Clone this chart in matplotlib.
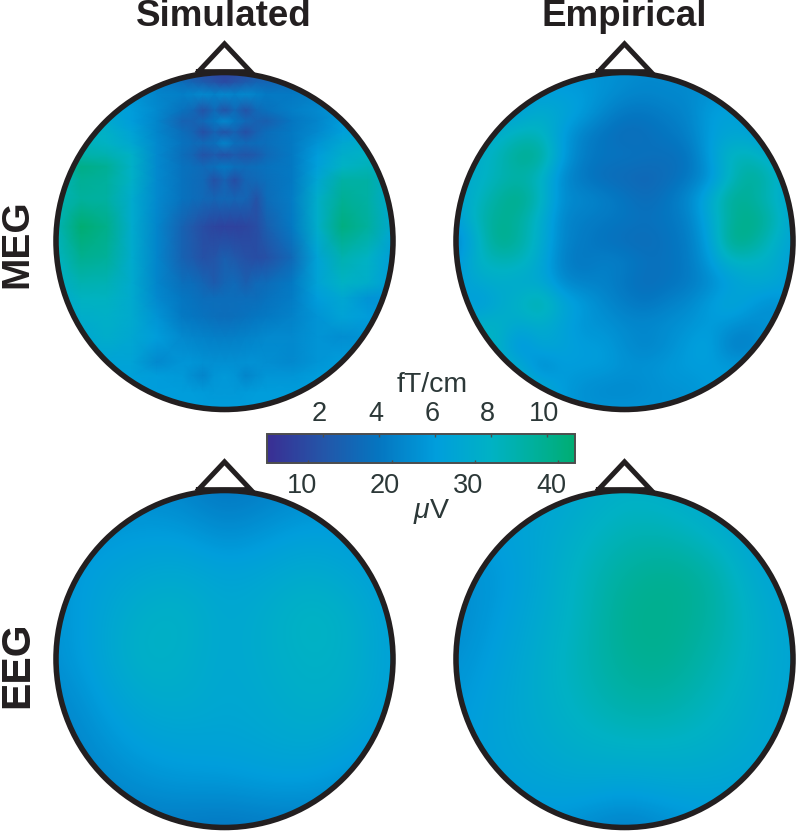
import numpy as np
import matplotlib
matplotlib.use("Agg")
import matplotlib.pyplot as plt
from matplotlib.colors import LinearSegmentedColormap, Normalize
from matplotlib.cm import ScalarMappable
from matplotlib.patches import Circle
from matplotlib.transforms import ScaledTranslation

plt.rcParams['font.family'] = ['Liberation Sans', 'DejaVu Sans']
plt.rcParams['mathtext.fontset'] = 'custom'
plt.rcParams['mathtext.it'] = 'Liberation Sans:italic'

W, H = 800, 835
INK = '#231f20'
LABEL = '#2c3838'

# Simulated MEG (fT/cm), read off at uneven sensor-like nodes
sim_meg_x = [-1, -.85, -.7, -.55, -.4, -.25, -.19, -.125, -.06, 0, .06, .125, .19, .25, .4, .55, .7, .85, 1]
sim_meg_y = [1, .94, .87, .775, .71, .645, .58, .51, .44, .36, .25, .085, -.10, -.25, -.34, -.45, -.57, -.72, -.80, -.9, -1]
sim_meg = [
    [5, 5, 4.5, 4, 3.5, 2.5, 2, 1.5, 1.2, 1, 1.2, 1.5, 2, 2.5, 3.5, 4.5, 5, 5, 5],
    [6, 6, 6, 5.5, 4.5, 3.5, 3, 2.5, 2, 1.5, 2, 2.5, 3, 3, 3.5, 4, 5, 5, 5],
    [6.5, 6.5, 6, 5.5, 4.8, 4.5, 4.7, 5, 4.6, 5, 4.6, 5, 4.6, 4.2, 4.2, 4.4, 5, 5.5, 5.5],
    [7, 7, 6.8, 6, 5, 3.7, 3.2, 1.9, 3.2, 1.9, 3.2, 1.9, 3.2, 3.7, 4.5, 5, 5.5, 6, 6],
    [7.5, 7.5, 7.2, 6, 4.8, 2.8, 2.8, 3.2, 4, 5, 4, 3.2, 2.8, 2.6, 4, 4.8, 6, 6, 6],
    [8, 8, 7.8, 6.5, 4.8, 3.5, 3, 1.7, 2.8, 1.9, 2.8, 1.7, 2.8, 3.5, 4.2, 5, 6.2, 6.5, 6],
    [8, 8.5, 8, 7, 5, 3.8, 3.5, 3.3, 3.6, 4.8, 3.6, 3.3, 3.5, 3.6, 4.2, 5.5, 7, 7.5, 6],
    [8, 9, 8.8, 7.8, 5, 3.5, 3, 1.9, 2.4, 1.8, 2.4, 2, 2.4, 3.2, 4.2, 6, 7.5, 8, 6.5],
    [8, 10.3, 9.8, 7.8, 5, 3.8, 3.6, 3.3, 3.6, 4.2, 3.6, 3.4, 3.6, 3.8, 4.2, 6.2, 8, 8.5, 7],
    [8, 9.8, 9.5, 7.8, 5, 3.8, 3.5, 3.2, 1.8, 2.8, 1.6, 3, 3.2, 3.6, 4.2, 6.8, 9.2, 9.2, 7],
    [8.5, 9.5, 9.3, 7.3, 5, 3.8, 3.5, 3.2, 3, 3.2, 3, 3, 1.9, 3.4, 4.3, 7.5, 9.8, 9.2, 7],
    [8.5, 11, 10.2, 7.3, 4.8, 2.8, 2.2, 1.6, 1.2, 1, 1, 1.2, 1.6, 2.6, 4.2, 7.5, 10.5, 9.5, 7],
    [8, 10, 9.6, 7.3, 4.8, 2.8, 2.4, 1.8, 2, 2.6, 2.2, 1.8, 1.6, 1.8, 3.2, 6.5, 8.8, 8, 6],
    [7.5, 8.8, 8.6, 7.2, 4.8, 3.6, 3.5, 3, 2.4, 3, 3.3, 2.6, 3.3, 3.4, 4.2, 6.5, 8, 7.5, 6],
    [7, 8.2, 8.2, 7.2, 5, 4, 3.8, 3.5, 3.5, 3.5, 3.5, 3.5, 3.5, 3.8, 4.3, 6, 7, 5.5, 5.5],
    [6.5, 7.5, 7.8, 7.2, 5.5, 4.2, 4, 3.8, 3.6, 3.5, 3.6, 3.8, 4, 4.2, 4.6, 5.5, 6.5, 6, 5.5],
    [6, 7, 7.5, 7, 6, 5, 4.8, 4.6, 4.5, 4.4, 4.5, 4.6, 4.8, 5, 5, 5.5, 5.2, 5.5, 5.5],
    [6, 6.5, 6.5, 6.5, 5, 5.6, 5.6, 5.4, 5.3, 5.3, 5.3, 5.4, 5.4, 5.2, 5, 5.6, 6, 6, 6],
    [6, 6.3, 6.3, 6.3, 6, 5.8, 5.2, 4.8, 5.6, 5.8, 5.6, 4.8, 5.2, 5.6, 5.6, 6, 6, 6, 6],
    [6, 6, 6, 6, 6, 6, 6, 5.9, 5.8, 5.8, 5.8, 5.9, 6, 6, 6, 6, 6, 6, 6],
    [6, 6, 6, 6, 6, 6, 6, 6, 6, 6, 6, 6, 6, 6, 6, 6, 6, 6, 6],
]

# Empirical MEG (fT/cm), top row first
emp_meg = [
    [5.5, 5.5, 5.5, 5.5, 5.5, 5.5, 5.5, 5.5, 5.2, 5, 5, 5, 5, 5, 5, 5, 5],
    [6, 6, 6, 6, 6.2, 6.2, 6, 5.5, 5, 4.8, 5, 5, 5.5, 5.5, 5, 5, 5],
    [6.5, 6.5, 6.5, 6.5, 7.5, 6.8, 6, 4.8, 4, 4, 4.4, 4.8, 6, 6.5, 6, 5.5, 5.5],
    [7, 7, 7.5, 8.5, 8.5, 6, 4.5, 3.8, 3.4, 3.6, 4, 4.5, 6, 6.8, 6.5, 6, 6],
    [7, 7.5, 8.5, 10.2, 10, 6.2, 4.4, 4, 4, 3.8, 3.6, 3.8, 6, 8.5, 8.5, 7, 6.5],
    [7, 7.5, 8.5, 9, 8, 5, 4, 3.4, 3.2, 3, 3.4, 4, 5.2, 8, 10, 8.5, 6.5],
    [6.5, 8, 9.5, 10.5, 8.5, 5.2, 5, 4.6, 4, 3.4, 4, 5, 7.2, 10, 9.5, 8, 6.5],
    [6, 8.5, 10, 9.5, 7.5, 4.8, 4.4, 4.2, 4, 3.8, 4, 4.5, 6.8, 9.5, 10.5, 9, 6.5],
    [4.5, 7.5, 10.5, 9.5, 7.5, 4.8, 4.3, 3.8, 3.5, 3.4, 3.8, 4.3, 6.2, 10.5, 10, 8, 6.5],
    [5.5, 8, 8.5, 8.5, 7, 4.5, 4, 4.6, 4.4, 3.8, 3.8, 4.2, 5.8, 8, 8, 7.5, 6],
    [6, 7, 7.5, 7, 7, 5, 4.6, 4.6, 4, 3.5, 3.8, 4.2, 5, 6, 7, 7, 6],
    [7, 5.5, 7, 8, 9.5, 7, 6, 5, 4.4, 4, 4.6, 5, 6, 7, 6, 5, 6],
    [7, 8, 8, 7, 7.5, 6.5, 5.5, 5.5, 5, 5, 5.2, 5.5, 6, 5.5, 5, 5.5, 6],
    [8, 8, 8, 4.8, 7, 6.5, 6, 6, 5.2, 4.7, 5.2, 6, 6.5, 4.2, 4.5, 6, 6],
    [8, 8, 8, 7.5, 4.5, 6, 6, 6, 5.5, 5.5, 5.8, 6, 6, 6, 6, 6, 6],
    [8, 8, 8, 8, 7.5, 6, 5.3, 5, 5, 5.2, 5.5, 5.5, 6, 6, 6, 6, 6],
    [8, 8, 8, 8, 7, 6, 5.5, 5.5, 5.5, 5.5, 5.5, 5.5, 6, 6, 6, 6, 6],
]

# EEG maps (uV), top row first
sim_eeg = [
    [23, 23, 22, 21, 18, 20, 22, 23, 23],
    [24, 24, 25, 25, 22, 24, 26, 25, 24],
    [24, 26, 28, 29, 27, 28, 30, 28, 25],
    [23, 27, 31, 32, 28, 30, 33, 31, 26],
    [23, 27, 32, 31, 28, 30, 32, 31, 26],
    [21, 25, 29, 30, 28, 29, 31, 30, 26],
    [20, 23, 26, 27, 27, 28, 29, 27, 24],
    [19, 21, 23, 24, 24, 25, 25, 23, 22],
    [19, 19, 19, 19, 18, 19, 19, 20, 20],
]
emp_eeg = [
    [26, 26, 27, 29, 31, 30, 28, 26, 25],
    [25, 26, 28, 31, 34, 34, 31, 27, 25],
    [23, 24, 28, 33, 37, 39, 37, 29, 26],
    [22, 25, 29, 33, 39, 39, 37, 31, 27],
    [23, 26, 30, 34, 38, 39, 35, 31, 27],
    [24, 27, 30, 33, 36, 36, 33, 30, 27],
    [25, 27, 29, 31, 32, 32, 31, 29, 27],
    [25, 26, 27, 28, 27, 28, 28, 27, 26],
    [24, 24, 24, 22, 19, 22, 24, 25, 25],
]

meg_range = (0, 11)
eeg_range = (5, 42)
meg_ticks = [2, 4, 6, 8, 10]
eeg_ticks = [10, 20, 30, 40]

cmap = LinearSegmentedColormap.from_list('topo', [
    (0.0, '#3a2e93'), (0.18, '#2455a8'), (0.36, '#0575c0'), (0.55, '#009edc'),
    (0.73, '#00b2c4'), (0.91, '#00af90'), (1.0, '#00ad72')])


def px_axes(fig, x0, y0, x1, y1):
    # axes from pixel box, y counted from the top
    return fig.add_axes([x0 / W, 1 - y1 / H, (x1 - x0) / W, (y1 - y0) / H])


def head(fig, cx, cy, r=168.5):
    ax = px_axes(fig, cx - r, cy - r, cx + r, cy + r)
    ax.set_xlim(-1, 1)
    ax.set_ylim(-1, 1)
    ax.axis('off')
    clip = Circle((0, 0), 1, transform=ax.transData)
    ax.add_patch(Circle((0, 0), 1, fc='none', ec=INK, lw=4, zorder=5, clip_on=False))
    ax.plot([-.155, 0, .155, -.155], [1.005, 1.17, 1.005, 1.005], color=INK, lw=3.6, zorder=4,
            clip_on=False, solid_joinstyle='miter')
    return ax, clip


def shift_labels(ax, dx):
    # the tick labels sit a little left of their ticks in the reference
    off = ScaledTranslation(dx / 100, 0, ax.figure.dpi_scale_trans)
    for lab in ax.get_xticklabels():
        lab.set_transform(lab.get_transform() + off)


fig = plt.figure(figsize=(W / 100, H / 100), dpi=100)

# top row
ax, clip = head(fig, 224.5, 241)
X, Y = np.meshgrid(sim_meg_x, sim_meg_y)
m = ax.pcolormesh(X, Y, np.array(sim_meg), shading='gouraud', cmap=cmap,
                  vmin=meg_range[0], vmax=meg_range[1])
m.set_clip_path(clip)

ax, clip = head(fig, 624.5, 241)
m = ax.imshow(np.array(emp_meg), extent=[-1.0625, 1.0625, -1.0625, 1.0625], cmap=cmap,
              vmin=meg_range[0], vmax=meg_range[1], interpolation='bicubic', aspect='auto')
m.set_clip_path(clip)

# bottom row
for cx, grid in [(224.5, sim_eeg), (624.5, emp_eeg)]:
    ax, clip = head(fig, cx, 659)
    m = ax.imshow(np.array(grid), extent=[-1.125, 1.125, -1.125, 1.125], cmap=cmap,
                  vmin=eeg_range[0], vmax=eeg_range[1], interpolation='bicubic', aspect='auto')
    m.set_clip_path(clip)

# shared colorbar, fT/cm on top and uV below
cax = px_axes(fig, 266.5, 433.5, 575, 463)
cb = fig.colorbar(ScalarMappable(Normalize(*meg_range), cmap), cax=cax, orientation='horizontal')
cb.outline.set_edgecolor('#4d4d4d')
cb.outline.set_linewidth(1.4)
cax2 = cax.twiny()
cax.xaxis.set_ticks_position('top')
cax.set_xticks(meg_ticks)
cax.tick_params(axis='x', which='both', top=True, bottom=False, labeltop=True, labelbottom=False,
                direction='in', length=2, width=1, color='#4d4d4d', labelsize=19.5,
                labelcolor=LABEL, pad=5)
cax.minorticks_off()
cax2.set_xlim(*eeg_range)
cax2.xaxis.set_ticks_position('bottom')
cax2.set_xticks(eeg_ticks)
cax2.tick_params(axis='x', direction='in', length=2, width=1, color='#4d4d4d', labelsize=19.5,
                 labelcolor=LABEL, pad=7)
for s in cax2.spines.values():
    s.set_visible(False)
shift_labels(cax, -3)
shift_labels(cax2, -6.5)

fig.text(432 / W, 1 - 385 / H, 'fT/cm', ha='center', va='center', fontsize=20.5, color=LABEL)
fig.text(432 / W, 1 - 512 / H, r'$\mu$V', ha='center', va='center', fontsize=20.5, color=LABEL)

fig.text(224 / W, 1 - 17 / H, 'Simulated', ha='center', va='center', fontsize=26.5, fontweight='bold', color=INK)
fig.text(624.5 / W, 1 - 17 / H, 'Empirical', ha='center', va='center', fontsize=26.5, fontweight='bold', color=INK)
fig.text(17.5 / W, 1 - 243.5 / H, 'MEG', rotation=90, ha='center', va='center', fontsize=28, fontweight='bold', color=INK)
fig.text(17.5 / W, 1 - 665 / H, 'EEG', rotation=90, ha='center', va='center', fontsize=29.5, fontweight='bold', color=INK)

fig.savefig('out.png', dpi=100)
